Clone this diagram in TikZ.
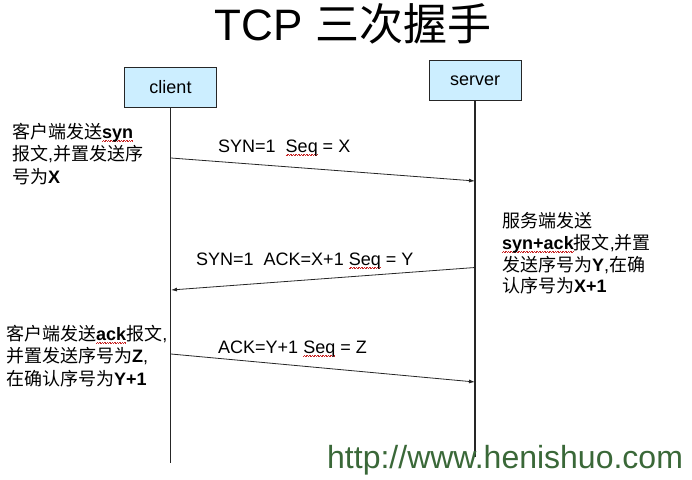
\documentclass[tikz,border=0pt]{standalone}
\usepackage{fontspec}
\setmainfont{Liberation Sans}
\newfontfamily\cjk{Noto Sans CJK SC}
\usetikzlibrary{arrows.meta}
\definecolor{boxblue}{RGB}{204,238,255}
\definecolor{wmgreen}{RGB}{58,104,56}
\definecolor{wavered}{RGB}{200,40,40}
\newcommand\redwave[1]{\setbox0\hbox{#1}\rlap{\raisebox{-3.2pt}{\textcolor{wavered}{\hbox to\wd0{\xleaders\hbox{\rule{0.8pt}{0.5pt}\raisebox{0.8pt}{\rule{0.8pt}{0.5pt}}}\hfil}}}}\box0\relax}
\newcommand\zh[1]{{\cjk #1}}
\begin{document}
\begin{tikzpicture}[x=1pt,y=-1pt,
  actor/.style={draw=black!85,line width=0.8pt,fill=boxblue,minimum width=92pt,minimum height=40pt,inner sep=0pt,font=\fontsize{18}{21}\selectfont},
  life/.style={draw=black!85,line width=1.3pt},
  msg/.style={draw=black!85,line width=0.8pt,-{Latex[length=6pt,width=4pt]}},
  txt/.style={anchor=base west,inner sep=0pt,font=\fontsize{18}{21}\selectfont},
  lbl/.style={anchor=base west,inner sep=0pt,font=\fontsize{18}{21}\selectfont}]
\useasboundingbox (0,0) rectangle (692,479);
% title
\node[anchor=base,inner sep=0pt,font=\fontsize{44}{48}\selectfont] (title) at (353,40) {TCP \zh{三次握手}};
% actors
\node[actor] (client) at (170.5,87) {client};
\node[actor] (server) at (475,80.7) {server};
\coordinate (cend) at (171,463);
\coordinate (send) at (475,457);
\draw[life] (client.south) -- (client.south |- cend);
\draw[life] (server.south) -- (server.south |- send);
% messages
\coordinate (c1) at (171,158);
\coordinate (s1) at (475,181);
\coordinate (s2) at (475,267.5);
\coordinate (c2) at (171,290);
\coordinate (c3) at (171,354);
\coordinate (s3) at (475,382);
\draw[msg] (c1) -- (s1);
\draw[msg] (s2) -- (c2);
\draw[msg] (c3) -- (s3);
\node[lbl] (l1) at (218,152) {SYN=1\ \ \redwave{Seq} = X};
\node[lbl] (l2) at (196,265.5) {SYN=1\ \ ACK=X+1 \redwave{Seq} = Y};
\node[lbl] (l3) at (218,353) {ACK=Y+1 \redwave{Seq} = Z};
% client note 1
\node[txt] (a1) at (12,138) {\zh{客户端发送}\redwave{\textbf{syn}}};
\node[txt] (a2) at (12,160.5) {\zh{报文},\zh{并置发送序}};
\node[txt] (a3) at (12,183) {\zh{号为}\textbf{X}};
% server note
\node[txt] (b1) at (502,227) {\zh{服务端发送}};
\node[txt] (b2) at (502,249.5) {\redwave{\textbf{syn+ack}}\zh{报文},\zh{并置}};
\node[txt] (b3) at (502,271) {\zh{发送序号为}\textbf{Y},\zh{在确}};
\node[txt] (b4) at (502,292.5) {\zh{认序号为}\textbf{X+1}};
% client note 2
\node[txt] (d1) at (6,340) {\zh{客户端发送}\redwave{\textbf{ack}}\zh{报文},};
\node[txt] (d2) at (6,362.5) {\zh{并置发送序号为}\textbf{Z},};
\node[txt] (d3) at (6,385) {\zh{在确认序号为}\textbf{Y+1}};
% watermark
\node[anchor=base west,inner sep=0pt,text=wmgreen,font=\fontsize{32}{36}\selectfont] (wm) at (327,468) {http://www.henishuo.com};
\end{tikzpicture}
\end{document}
